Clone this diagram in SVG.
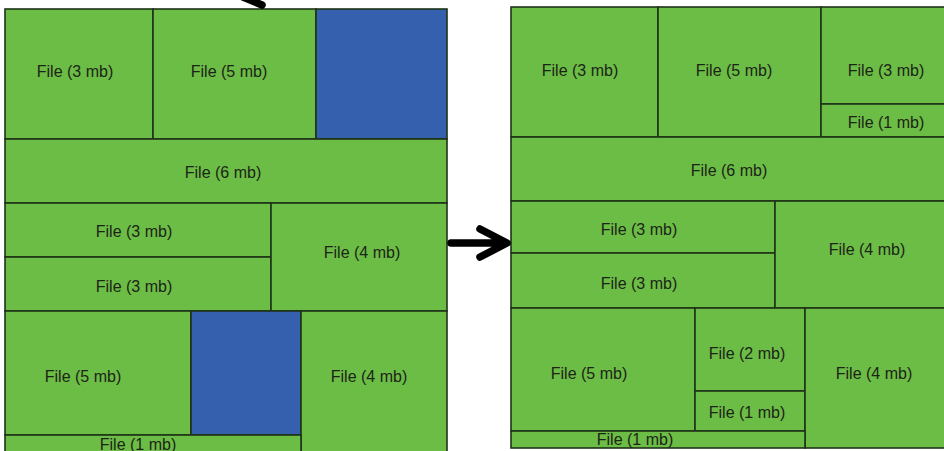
<svg xmlns="http://www.w3.org/2000/svg" width="944" height="451" viewBox="0 0 944 451">
<style>
.g{fill:#6cbd45;stroke:#1f3317;stroke-width:1.6}
.b{fill:#3560ad;stroke:#1f3317;stroke-width:1.6}
text{font-family:"Liberation Sans",Arial,sans-serif;font-size:16px;fill:#1c2418;text-anchor:middle;dominant-baseline:central}
.arr{fill:none;stroke:#000;stroke-width:7.5;stroke-linecap:round;stroke-linejoin:round}
</style>
<rect width="944" height="451" fill="#fff"/>
<g id="left">
<g id="L1"><rect class="g" x="5" y="9" width="148" height="130"/><text x="75" y="71">File (3 mb)</text></g>
<g id="L2"><rect class="g" x="153" y="9" width="163" height="130"/><text x="229" y="71">File (5 mb)</text></g>
<g id="L3"><rect class="b" x="316" y="9" width="131" height="130"/></g>
<g id="L4"><rect class="g" x="5" y="139" width="442" height="64"/><text x="223" y="172">File (6 mb)</text></g>
<g id="L5"><rect class="g" x="5" y="203" width="266" height="54"/><text x="134" y="231">File (3 mb)</text></g>
<g id="L6"><rect class="g" x="5" y="257" width="266" height="54"/><text x="134" y="286">File (3 mb)</text></g>
<g id="L7"><rect class="g" x="271" y="203" width="176" height="108"/><text x="362" y="252">File (4 mb)</text></g>
<g id="L8"><rect class="g" x="5" y="311" width="186" height="124"/><text x="83" y="376">File (5 mb)</text></g>
<g id="L9"><rect class="b" x="191" y="311" width="110" height="124"/></g>
<g id="L10"><rect class="g" x="301" y="311" width="146" height="145"/><text x="369" y="376">File (4 mb)</text></g>
<g id="L11"><rect class="g" x="5" y="435" width="296" height="21"/><text x="138" y="444">File (1 mb)</text></g>
</g>
<g id="right">
<g id="R1"><rect class="g" x="511" y="7" width="147" height="130"/><text x="580" y="70">File (3 mb)</text></g>
<g id="R2"><rect class="g" x="658" y="7" width="163" height="130"/><text x="734" y="70">File (5 mb)</text></g>
<g id="R3"><rect class="g" x="821" y="7" width="126" height="97"/><text x="886" y="70">File (3 mb)</text></g>
<g id="R4"><rect class="g" x="821" y="104" width="126" height="33"/><text x="886" y="122">File (1 mb)</text></g>
<g id="R5"><rect class="g" x="511" y="137" width="436" height="64"/><text x="729" y="170">File (6 mb)</text></g>
<g id="R6"><rect class="g" x="511" y="201" width="264" height="52"/><text x="639" y="229">File (3 mb)</text></g>
<g id="R7"><rect class="g" x="511" y="253" width="264" height="55"/><text x="639" y="283">File (3 mb)</text></g>
<g id="R8"><rect class="g" x="775" y="201" width="172" height="107"/><text x="867" y="249">File (4 mb)</text></g>
<g id="R9"><rect class="g" x="511" y="308" width="184" height="123"/><text x="589" y="373">File (5 mb)</text></g>
<g id="R10"><rect class="g" x="695" y="308" width="110" height="83"/><text x="747" y="353">File (2 mb)</text></g>
<g id="R11"><rect class="g" x="695" y="391" width="110" height="40"/><text x="747" y="412">File (1 mb)</text></g>
<g id="R12"><rect class="g" x="805" y="308" width="142" height="140"/><text x="874" y="373">File (4 mb)</text></g>
<g id="R13"><rect class="g" x="511" y="431" width="294" height="17"/><text x="635" y="439">File (1 mb)</text></g>
</g>
<g id="connectors">
<path class="arr" d="M451 243H504M480 229L507 243L480 257"/>
<path class="arr" d="M243 -3L262 5"/>
</g>
</svg>
